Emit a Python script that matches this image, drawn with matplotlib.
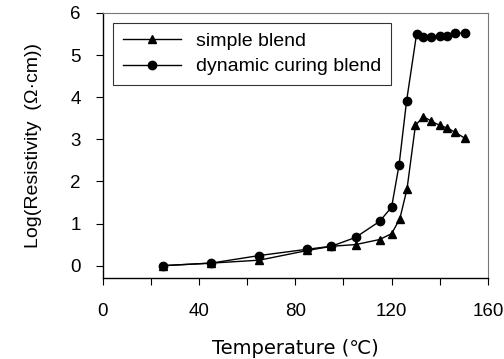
import matplotlib
matplotlib.use("Agg")
import matplotlib.pyplot as plt

# Temperature (C) and log resistivity
temp_simple = [25, 45, 65, 85, 95, 105, 115, 120, 123.4, 126.4, 129.9, 133.2, 136.2, 140, 143, 146.3, 150.3]
logr_simple = [0.0, 0.06, 0.13, 0.36, 0.46, 0.50, 0.62, 0.76, 1.11, 1.82, 3.33, 3.54, 3.44, 3.33, 3.27, 3.17, 3.03]

temp_dynamic = [25, 45, 65, 85, 95, 105, 115, 120, 123.1, 126.2, 130.4, 133.2, 136.2, 140, 143, 146.3, 150.3]
logr_dynamic = [0.0, 0.06, 0.24, 0.39, 0.46, 0.67, 1.05, 1.39, 2.39, 3.90, 5.51, 5.42, 5.44, 5.45, 5.45, 5.52, 5.52]

x_ticks = [0, 20, 40, 60, 80, 100, 120, 140, 160]
x_labels = ["0", "", "40", "", "80", "", "120", "", "160"]
y_ticks = [0, 1, 2, 3, 4, 5, 6]

FONT = ["Liberation Sans", "DejaVu Sans"]
plt.rcParams["font.family"] = FONT
plt.rcParams["font.size"] = 14


def main():
    fig = plt.figure(figsize=(5.04, 3.59), dpi=100)
    ax = fig.add_axes([0.204, 0.226, 0.764, 0.738])

    ax.plot(temp_simple, logr_simple, color="black", lw=1.0, marker="^",
            markersize=6, label="simple blend")
    ax.plot(temp_dynamic, logr_dynamic, color="black", lw=1.0, marker="o",
            markersize=6, label="dynamic curing blend")

    ax.set_xlim(0, 160)
    ax.set_ylim(-0.29, 6)
    ax.set_xticks(x_ticks)
    ax.set_xticklabels(x_labels)
    ax.set_yticks(y_ticks)

    ax.tick_params(axis="x", direction="out", length=5, width=0.8, pad=13,
                   labelsize=13.5)
    ax.tick_params(axis="y", direction="out", length=5, width=0.8, pad=11,
                   labelsize=13.5)

    for side in ("left", "bottom"):
        ax.spines[side].set_linewidth(1.0)
    for side in ("right", "top"):
        ax.spines[side].set_color("#777777")
        ax.spines[side].set_linewidth(0.8)

    ax.set_xlabel("Temperature (℃)", labelpad=14, family=["DejaVu Sans"])
    ax.set_ylabel("Log(Resistivity  (Ω·cm))", labelpad=20)

    leg = ax.legend(loc="upper left", bbox_to_anchor=(0.026, 0.963),
                    frameon=True, fancybox=False, edgecolor="black",
                    handlelength=3.0, borderpad=0.5, labelspacing=0.4,
                    handletextpad=0.8, borderaxespad=0)
    leg.get_frame().set_linewidth(0.8)

    fig.savefig("out.png", dpi=100, facecolor="white")


if __name__ == "__main__":
    main()
